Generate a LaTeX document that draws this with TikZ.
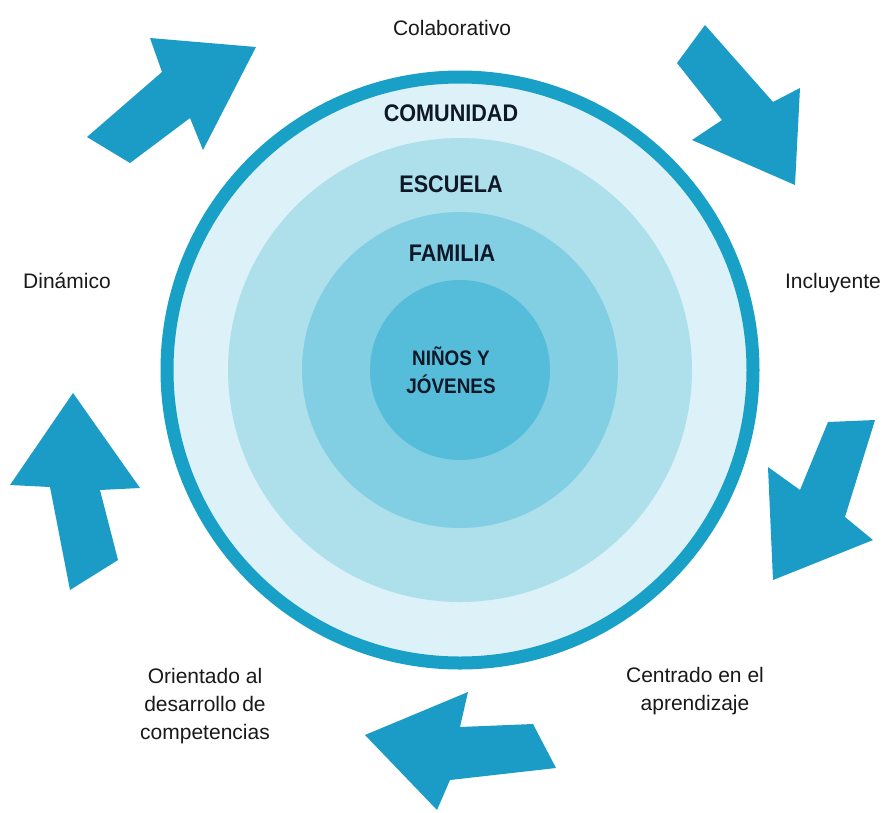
\documentclass[tikz,border=0pt]{standalone}
\usepackage{fontspec}
\setmainfont{Liberation Sans}
\newfontfamily\narrowfont{Liberation Sans}[FakeStretch=0.9]
\usetikzlibrary{positioning}
\definecolor{ringblue}{HTML}{19A0C6}
\definecolor{arrowblue}{HTML}{1A9CC7}
\definecolor{bandA}{HTML}{DCF2F8}
\definecolor{bandB}{HTML}{AEE0EC}
\definecolor{bandC}{HTML}{82CEE2}
\definecolor{bandD}{HTML}{55BDD9}
\definecolor{labelink}{HTML}{101828}
\tikzset{
	band/.style={circle, inner sep=0pt, draw=none},
	ringlabel/.style={font=\narrowfont\bfseries\fontsize{24}{28}\selectfont, text=labelink},
	corelabel/.style={font=\narrowfont\bfseries\fontsize{21}{28}\selectfont, text=labelink, align=center},
	sidelabel/.style={font=\fontsize{21}{28}\selectfont, text=black!90, align=center},
	blockarrow/.style={fill=arrowblue, draw=none}
}

\begin{document}
\begin{tikzpicture}[x=1pt, y=-1pt]
		\fill[white] (0,0) rectangle (887,812);
		\useasboundingbox (0,0) rectangle (887,812);
		\coordinate (c) at (460,370);
		\node[band, fill=bandA, draw=ringblue, line width=13pt, minimum size=586pt] (comunidad) at (c) {};
		\node[band, fill=bandB, minimum size=464pt] (escuela) at (c) {};
		\node[band, fill=bandC, minimum size=316pt] (familia) at (c) {};
		\node[band, fill=bandD, minimum size=180pt] (ninos) at (c) {};

		\node[ringlabel] (comunidadlbl) at (451,113) {COMUNIDAD};
		\node[ringlabel] (escuelalbl) at (451,184) {ESCUELA};
		\node[ringlabel] (familialbl) at (452,253) {FAMILIA};
		\node[corelabel] (ninoslbl) at (451,370) {NIÑOS Y\\JÓVENES};

		\node[sidelabel, anchor=base] (colab) at (452,35) {Colaborativo};
		\node[sidelabel, anchor=base] (dinam) at (67,288) {Dinámico};
		\node[sidelabel, anchor=base] (incl) at (833,288) {Incluyente};
		\node[sidelabel] (centr) at (695,691) {Centrado en el\\aprendizaje};
		\node[sidelabel] (orient) at (205,706) {Orientado al\\desarrollo de\\competencias};

		\fill[blockarrow] (87,137) -- (162,72) -- (150,38) -- (256,47) -- (203,150) -- (190,118) -- (130,163) -- cycle;
		\fill[blockarrow] (705,25) -- (773,102) -- (800,88) -- (795,185) -- (692,140) -- (722,120) -- (677,63) -- cycle;
		\fill[blockarrow] (828,422) -- (875,420) -- (845,517) -- (873,540) -- (773,580) -- (768,467) -- (800,490) -- cycle;
		\fill[blockarrow] (365,735) -- (468,692) -- (460,727) -- (533,724) -- (556,768) -- (450,780) -- (437,810) -- cycle;
		\fill[blockarrow] (73,393) -- (140,488) -- (100,490) -- (118,560) -- (70,590) -- (50,487) -- (10,485) -- cycle;
	\end{tikzpicture}
\end{document}
